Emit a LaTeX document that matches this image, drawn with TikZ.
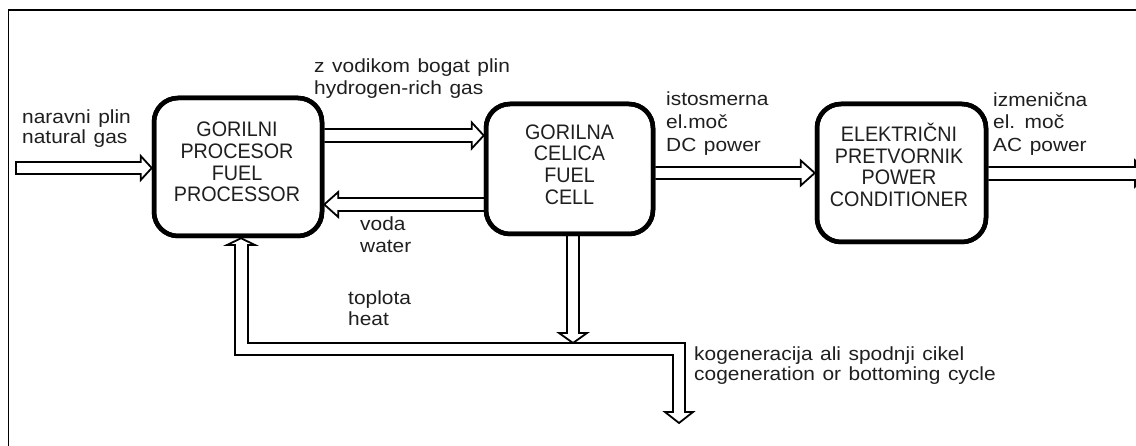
\documentclass[tikz,border=0pt]{standalone}
\usepackage{fontspec}
\setmainfont{Liberation Sans}
\newfontfamily\lblfont[FakeStretch=1.1,WordSpace=1.3]{Liberation Sans}
\newfontfamily\boxfont[FakeStretch=0.94]{Liberation Sans}
\usetikzlibrary{calc}
\colorlet{txt}{black!88}
% right / left / down hollow arrows: #1 from, #2 tip, #3 level (px), #4 half shaft, #5 half head, #6 head length
\newcommand\arrR[6]{\draw[flow] let \p1=(#1),\p2=(#2),\p3=(0,#3) in
  (\x1,\y3+#4) -- (\x2-#6,\y3+#4) -- (\x2-#6,\y3+#5) -- (\x2,\y3) -- (\x2-#6,\y3-#5) -- (\x2-#6,\y3-#4) -- (\x1,\y3-#4);}
\newcommand\arrRc[6]{\draw[flow] let \p1=(#1),\p2=(#2),\p3=(0,#3) in
  (\x1,\y3+#4) -- (\x2-#6,\y3+#4) -- (\x2-#6,\y3+#5) -- (\x2,\y3) -- (\x2-#6,\y3-#5) -- (\x2-#6,\y3-#4) -- (\x1,\y3-#4) -- cycle;}
\newcommand\arrL[6]{\draw[flow] let \p1=(#1),\p2=(#2),\p3=(0,#3) in
  (\x1,\y3+#4) -- (\x2+#6,\y3+#4) -- (\x2+#6,\y3+#5) -- (\x2,\y3) -- (\x2+#6,\y3-#5) -- (\x2+#6,\y3-#4) -- (\x1,\y3-#4);}
\newcommand\arrD[6]{\draw[flow] let \p1=(#1),\p2=(#2),\p3=(#3,0) in
  (\x3-#4,\y1) -- (\x3-#4,\y2+#6) -- (\x3-#5,\y2+#6) -- (\x3,\y2) -- (\x3+#5,\y2+#6) -- (\x3+#4,\y2+#6) -- (\x3+#4,\y1);}
\tikzset{
  flow/.style={draw=black, line width=1.8pt, line join=miter},
  procbox/.style={draw=black, line width=4.5pt, rounded corners=24pt, inner sep=0pt},
  boxtxt/.style={inner sep=0pt, align=center, text=txt, font=\boxfont\fontsize{21}{21.8}\selectfont},
  lbl/.style={inner sep=0pt, anchor=north west, align=left, text=txt, font=\lblfont\fontsize{19}{#1}\selectfont},
}
\begin{document}
\begin{tikzpicture}[x=1pt,y=-1pt]
\useasboundingbox (0,0) rectangle (1136,446);
\clip (0,0) rectangle (1136,446);
\fill[white] (0,0) rectangle (1136,446);
% frame
\draw[line width=1.8pt] (8.5,450) -- (8.5,10) -- (1140,10);
% coordinates
\coordinate (ng) at (16,168);
\coordinate (ht) at (573,343);
\coordinate (cg) at (679,423);
\coordinate (acend) at (1148,173.5);
% boxes (placed first so anchors exist)
\node[procbox, minimum width=168pt, minimum height=138pt] (fp) at (238,167) {};
\node[procbox, minimum width=167pt, minimum height=130pt] (fc) at (569.5,169) {};
\node[procbox, minimum width=169pt, minimum height=138pt] (pc) at (901.5,173) {};
% arrows
\arrRc{ng}{fp.west}{168}{6pt}{12pt}{11pt}
\arrR{fp.east}{fc.west}{135.5}{6.5pt}{13pt}{12pt}
\arrL{fc.west}{fp.east}{204.5}{6.5pt}{12.5pt}{14pt}
\arrR{fc.east}{pc.west}{173}{6pt}{12.5pt}{14pt}
\arrR{pc.east}{acend}{173.5}{6.5pt}{13pt}{13pt}
\arrD{fc.south}{ht}{573}{6pt}{14pt}{10pt}
\draw[flow] let \p1=(fp.south), \p2=(cg) in
  (248,245) -- (248,343) -- (685,343) -- (685,412) -- (693,412) -- (\x2,\y2)
  -- (665,412) -- (673,412) -- (673,355) -- (235,355) -- (235,245) -- (227,245)
  -- (241pt,\y1) -- (255,245) -- cycle;
% redraw boxes on top
\node[procbox, minimum width=168pt, minimum height=138pt] at (fp) {};
\node[procbox, minimum width=167pt, minimum height=130pt] at (fc) {};
\node[procbox, minimum width=169pt, minimum height=138pt] at (pc) {};
% box texts
\node[boxtxt] (fpt) at (237,162) {GORILNI\\PROCESOR\\FUEL\\PROCESSOR};
\node[boxtxt] (fct) at (569.5,164.5) {GORILNA\\CELICA\\FUEL\\CELL};
\node[boxtxt] (pct) at (899,165) {ELEKTRIČNI\\PRETVORNIK\\POWER\\CONDITIONER};
% labels
\node[lbl=20] (l1) at (22,110) {naravni plin\\natural gas};
\node[lbl=21.5] (l2) at (314,59) {z vodikom bogat plin\\hydrogen-rich gas};
\node[lbl=22] (l3) at (360,217) {voda\\water};
\node[lbl=23] (l4) at (666,92) {istosmerna\\el.moč\\DC power};
\node[lbl=22.5] (l5) at (993,92) {izmenična\\el. moč\\AC power};
\node[lbl=21] (l6) at (348,291) {toplota\\heat};
\node[lbl=20] (l7) at (694,347) {kogeneracija ali spodnji cikel\\cogeneration or bottoming cycle};
\end{tikzpicture}
\end{document}
